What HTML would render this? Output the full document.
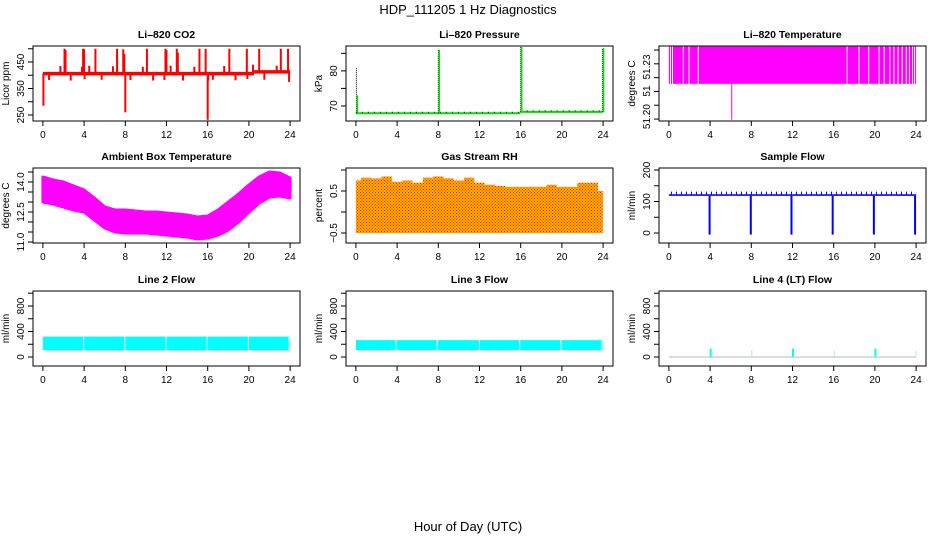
<!DOCTYPE html>
<html><head><meta charset="utf-8">
<style>
html,body{margin:0;padding:0;background:#fff;}
svg{display:block;font-family:"Liberation Sans",Arial,sans-serif;}
</style></head>
<body>
<svg id="chart" width="936" height="540" viewBox="0 0 936 540" xmlns="http://www.w3.org/2000/svg">
<defs>
<pattern id="rhpat" width="3" height="3" patternUnits="userSpaceOnUse">
<rect width="3" height="3" fill="#ffb000"/><rect width="1" height="1" fill="#ff2000"/><rect x="1.5" y="1.5" width="1" height="1" fill="#ff2000"/>
</pattern>
</defs>
<text x="468" y="14" text-anchor="middle" font-size="13">HDP_111205  1 Hz Diagnostics</text>
<text x="468" y="531" text-anchor="middle" font-size="13">Hour of Day (UTC)</text>
</svg>
<script>
// ---------- data ----------
const xTicks = [0,4,8,12,16,20,24];
// CO2
const co2BaseStart = [0, 20.5];
const co2BaseEnd = [20.5, 24];
const co2BaseVal = [406, 413];
const co2SpikeHours = [0.05,2.1,2.2,3.9,4.0,5.1,7.2,7.8,7.9,10.1,11.9,12.0,13.0,13.1,15.2,15.8,18.1,19.8,21.0,23.1,23.8,1.7,3.8,4.5,6.8,9.7,12.4,14.7,17.6,20.4,22.7,0.6,2.7,4.05,5.7,8.5,10.7,11.8,13.6,16.5,18.7,19.85,21.5,23.9,8.0,16.0,16.05];
const co2SpikeVals = [285,500,495,500,498,500,500,498,480,500,500,495,500,485,500,500,500,500,500,500,500,435,432,436,434,432,436,432,435,440,436,382,380,385,383,382,380,382,380,383,381,386,383,375,260,232,380];
// Pressure
const presBaseStart = [0, 16];
const presBaseEnd = [16, 24];
const presBaseVal = [67.9, 68.3];
const presSpikeHours = [0.05, 8.0, 16.0, 23.95];
const presSpikeGreen = [73, 86, 86.8, 86.5];
const presSpikeBlack = [81, 86, 86.8, 86.5];
// Li-820 temperature
const tempBandLow = 51.2255;
const tempBandHigh = 51.2525;
const tempGapHours = [0.15,0.35,1.4,1.95,2.85,17.3,18.45,19.4,20.4,20.9,21.45,21.85,22.25,22.65,23.05,23.35,23.65,23.85];
const tempSpikeHour = [6.1];
const tempSpikeVal = [51.1995];
// Ambient box temperature envelope (hourly)
const ambHours = [0,1,2,3,4,5,6,7,8,9,10,11,12,13,14,15,16,17,18,19,20,21,22,23,24];
const ambUpper = [14.25,14.1,14.0,13.8,13.6,13.2,12.75,12.6,12.6,12.55,12.5,12.5,12.45,12.4,12.35,12.25,12.3,12.6,13.0,13.4,13.85,14.25,14.5,14.45,14.2];
const ambLower = [13.0,12.9,12.75,12.6,12.5,12.1,11.7,11.5,11.45,11.45,11.45,11.4,11.35,11.3,11.25,11.15,11.2,11.35,11.6,12.0,12.5,12.95,13.25,13.3,13.2];
// Gas stream RH (hourly top envelope)
const rhUpper = [0.75,0.82,0.8,0.85,0.72,0.75,0.7,0.82,0.85,0.8,0.75,0.82,0.7,0.65,0.62,0.6,0.6,0.6,0.6,0.65,0.6,0.6,0.7,0.7,0.5];
const rhLower = -0.5;
// Sample flow
const sfBase = 118;
const sfUpper = 130;
const sfDropHours = [3.95, 7.95, 11.9, 15.9, 19.9, 23.9];
const sfDropVals = [-5, -5, -5, -5, -5, -5];
// Line 2 / Line 3 flow bands
const l2Low = 105, l2High = 320;
const l2GapHours = [3.95, 7.95, 11.95, 15.95, 19.95, 23.9];
const l3Low = 108, l3High = 265;
const l3GapHours = [3.9, 7.9, 12.0, 15.9, 19.9, 23.9];
// Line 4 flow
const l4Base = 0;
const l4SpikeHours = [4.05, 8.05, 12.05, 16.05, 20.05, 24.0];
const l4SpikeVals = [130, 100, 130, 100, 130, 100];

// ---------- layout ----------
const NS = "http://www.w3.org/2000/svg";
const svg = document.getElementById('chart');
const colL = [33, 346, 659];
const rowT = [46, 168, 291];
const W = 267, H = 75;

function mk(tag, attrs, parent) {
  const e = document.createElementNS(NS, tag);
  for (const k in attrs) e.setAttribute(k, attrs[k]);
  (parent || svg).appendChild(e);
  return e;
}

function makePanel(col, row, name, title, ylab, lo, hi, yTicks, yLabels) {
  const L = colL[col], T = rowT[row], B = T + H;
  const g = mk('g', {});
  
  
  const sx = h => L + 9.9 + h * 247.2 / 24;
  const sy = v => B - (v - lo) / (hi - lo) * H;
  const t = mk('text', {x: L + W / 2, y: T - 8, 'text-anchor': 'middle', 'font-size': 10.5, 'font-weight': 'bold'}, g);
  t.textContent = title;
  
  
  const yt = mk('text', {transform: `translate(${L - 24},${T + H / 2}) rotate(-90)`, 'text-anchor': 'middle', 'font-size': 10}, g);
  yt.textContent = ylab;
  
  
  const xa = mk('g', {}, g);
  
  
  mk('line', {x1: sx(0), x2: sx(24), y1: B, y2: B, stroke: '#000'}, xa);
  xTicks.forEach(v => {
    mk('line', {x1: sx(v), x2: sx(v), y1: B, y2: B + 5, stroke: '#000'}, xa);
    const tx = mk('text', {x: sx(v), y: B + 17, 'text-anchor': 'middle', 'font-size': 10}, xa);
    tx.textContent = v;
  });
  const ya = mk('g', {}, g);
  
  
  mk('line', {x1: L, x2: L, y1: sy(yTicks[0]), y2: sy(yTicks[yTicks.length - 1]), stroke: '#000'}, ya);
  yTicks.forEach(v => mk('line', {x1: L - 5, x2: L, y1: sy(v), y2: sy(v), stroke: '#000'}, ya));
  yLabels.forEach(([v, s]) => {
    const tx = mk('text', {transform: `translate(${L - 9},${sy(v)}) rotate(-90)`, 'text-anchor': 'middle', 'font-size': 10}, ya);
    tx.textContent = s;
  });
  const data = mk('g', {}, g);
  
  
  const box = mk('rect', {x: L, y: T, width: W, height: H, fill: 'none', stroke: '#000'}, g);
  
  
  return {sx, sy, g: data, B, T};
}

// CO2
(function () {
  const p = makePanel(0, 0, 'co2', 'Li\u2013820 CO2', 'Licor ppm', 227.4, 510.4,
    [250,300,350,400,450,500], [[250,'250'],[350,'350'],[450,'450']]);
  co2SpikeHours.forEach((h, i) => {
    const base = h >= 20.5 ? co2BaseVal[1] : co2BaseVal[0];
    mk('line', {x1: p.sx(h), x2: p.sx(h), y1: p.sy(base), y2: p.sy(co2SpikeVals[i]), stroke: '#f00', 'stroke-width': 2}, p.g);
  });
  co2BaseStart.forEach((s, i) => mk('line', {x1: p.sx(s), x2: p.sx(co2BaseEnd[i]), y1: p.sy(co2BaseVal[i]), y2: p.sy(co2BaseVal[i]), stroke: '#f00', 'stroke-width': 3.5}, p.g));
})();

// Pressure
(function () {
  const p = makePanel(1, 0, 'pressure', 'Li\u2013820 Pressure', 'kPa', 65.7, 87.1,
    [70,75,80,85], [[70,'70'],[80,'80']]);
  presBaseStart.forEach((s, i) => mk('line', {x1: p.sx(s), x2: p.sx(presBaseEnd[i]), y1: p.sy(presBaseVal[i]), y2: p.sy(presBaseVal[i]), stroke: '#00dd00', 'stroke-width': 2}, p.g));
  presBaseStart.forEach((s, i) => mk('line', {x1: p.sx(s), x2: p.sx(presBaseEnd[i]), y1: p.sy(presBaseVal[i]) - 1, y2: p.sy(presBaseVal[i]) - 1, stroke: '#000', 'stroke-width': 1, 'stroke-dasharray': '1 5'}, p.g));
  presSpikeHours.forEach((h, i) => {
    mk('line', {x1: p.sx(h), x2: p.sx(h), y1: p.sy(presBaseVal[h >= 16 ? 1 : 0]), y2: p.sy(presSpikeBlack[i]), stroke: '#000', 'stroke-dasharray': '1 1'}, p.g);
    mk('line', {x1: p.sx(h) + 1, x2: p.sx(h) + 1, y1: p.sy(presBaseVal[h >= 16 ? 1 : 0]), y2: p.sy(presSpikeGreen[i]), stroke: '#00dd00', 'stroke-width': 1.5}, p.g);
  });
})();

// Li-820 temperature
(function () {
  const p = makePanel(2, 0, 'li820-temp', 'Li\u2013820 Temperature', 'degrees C', 51.1986, 51.2529,
    [51.20,51.21,51.22,51.23,51.24,51.25], [[51.2018,'51.20'],[51.2203,'51'],[51.2377,'51.23']]);
  mk('rect', {x: p.sx(0), y: p.sy(tempBandHigh), width: p.sx(24) - p.sx(0), height: p.sy(tempBandLow) - p.sy(tempBandHigh), fill: '#ff00ff'}, p.g);
  tempGapHours.forEach(h => mk('line', {x1: p.sx(h), x2: p.sx(h), y1: p.sy(tempBandHigh), y2: p.sy(tempBandLow), stroke: '#fff', 'stroke-width': 1}, p.g));
  tempSpikeHour.forEach((h, i) => mk('line', {x1: p.sx(h), x2: p.sx(h), y1: p.sy(tempBandLow), y2: p.sy(tempSpikeVal[i]), stroke: '#ff00ff'}, p.g));
})();

// Ambient
(function () {
  const p = makePanel(0, 1, 'ambient-temp', 'Ambient Box Temperature', 'degrees C', 10.95, 14.7,
    [11,11.5,12,12.5,13,13.5,14,14.5], [[11,'11.0'],[12.5,'12.5'],[14,'14.0']]);
  let d = ambHours.map((h, i) => (i ? 'L' : 'M') + p.sx(h) + ',' + p.sy(ambUpper[i])).join(' ');
  for (let i = ambHours.length - 1; i >= 0; i--) d += ' L' + p.sx(ambHours[i]) + ',' + p.sy(ambLower[i]);
  mk('path', {d: d + ' Z', fill: '#ff00ff', stroke: '#ff00ff', 'stroke-width': 3, 'stroke-linejoin': 'round'}, p.g);
})();

// RH
(function () {
  const p = makePanel(1, 1, 'gas-rh', 'Gas Stream RH', 'percent', -0.738, 1.048,
    [-0.5,0,0.5,1.0], [[-0.5,'\u22120.5'],[0.5,'0.5']]);
  let d = 'M' + p.sx(0) + ',' + p.sy(rhLower);
  rhUpper.forEach((v, i) => {
    const x0 = p.sx(Math.max(0, i - 0.5)), x1 = p.sx(Math.min(24, i + 0.5));
    d += ' L' + x0 + ',' + p.sy(v) + ' L' + x1 + ',' + p.sy(v);
  });
  d += ' L' + p.sx(24) + ',' + p.sy(rhLower) + ' Z';
  mk('path', {d, fill: 'url(#rhpat)'}, p.g);
})();

// Sample flow
(function () {
  const p = makePanel(2, 1, 'sample-flow', 'Sample Flow', 'ml/min', -31.7, 206.4,
    [0,50,100,150,200], [[0,'0'],[100,'100'],[200,'200']]);
  mk('rect', {x: p.sx(0), y: p.sy(sfBase + 5), width: p.sx(24) - p.sx(0), height: p.sy(sfBase) - p.sy(sfBase + 5), fill: '#0000ff'}, p.g);
  mk('line', {x1: p.sx(0.2), x2: p.sx(24), y1: p.sy(sfUpper) + 1, y2: p.sy(sfUpper) + 1, stroke: '#0000ff', 'stroke-width': 3, 'stroke-dasharray': '1 4'}, p.g);
  sfDropHours.forEach((h, i) => mk('line', {x1: p.sx(h), x2: p.sx(h), y1: p.sy(sfBase), y2: p.sy(sfDropVals[i]), stroke: '#0000ff', 'stroke-width': 2}, p.g));
})();

function bandPanel(col, name, title, low, high, gaps) {
  const p = makePanel(col, 2, name, title, 'ml/min', -141, 1035,
    [0,200,400,600,800,1000], [[0,'0'],[400,'400'],[800,'800']]);
  mk('rect', {x: p.sx(0), y: p.sy(high), width: p.sx(24) - p.sx(0), height: p.sy(low) - p.sy(high), fill: '#00ffff'}, p.g);
  gaps.forEach(h => mk('line', {x1: p.sx(h), x2: p.sx(h), y1: p.sy(high), y2: p.sy(low), stroke: '#fff', 'stroke-width': 1}, p.g));
}
bandPanel(0, 'line2-flow', 'Line 2 Flow', l2Low, l2High, l2GapHours);
bandPanel(1, 'line3-flow', 'Line 3 Flow', l3Low, l3High, l3GapHours);

// Line 4
(function () {
  const p = makePanel(2, 2, 'line4-flow', 'Line 4 (LT) Flow', 'ml/min', -141, 1035,
    [0,200,400,600,800,1000], [[0,'0'],[400,'400'],[800,'800']]);
  mk('line', {x1: p.sx(0), x2: p.sx(24), y1: p.sy(l4Base), y2: p.sy(l4Base), stroke: '#b8b8b8', 'stroke-width': 1}, p.g);
  l4SpikeHours.forEach((h, i) => mk('line', {x1: p.sx(h), x2: p.sx(h), y1: p.sy(l4Base), y2: p.sy(l4SpikeVals[i]), stroke: i % 2 ? '#9ee' : '#00ffff', 'stroke-width': i % 2 ? 1 : 2}, p.g));
})();
</script>
</body></html>
